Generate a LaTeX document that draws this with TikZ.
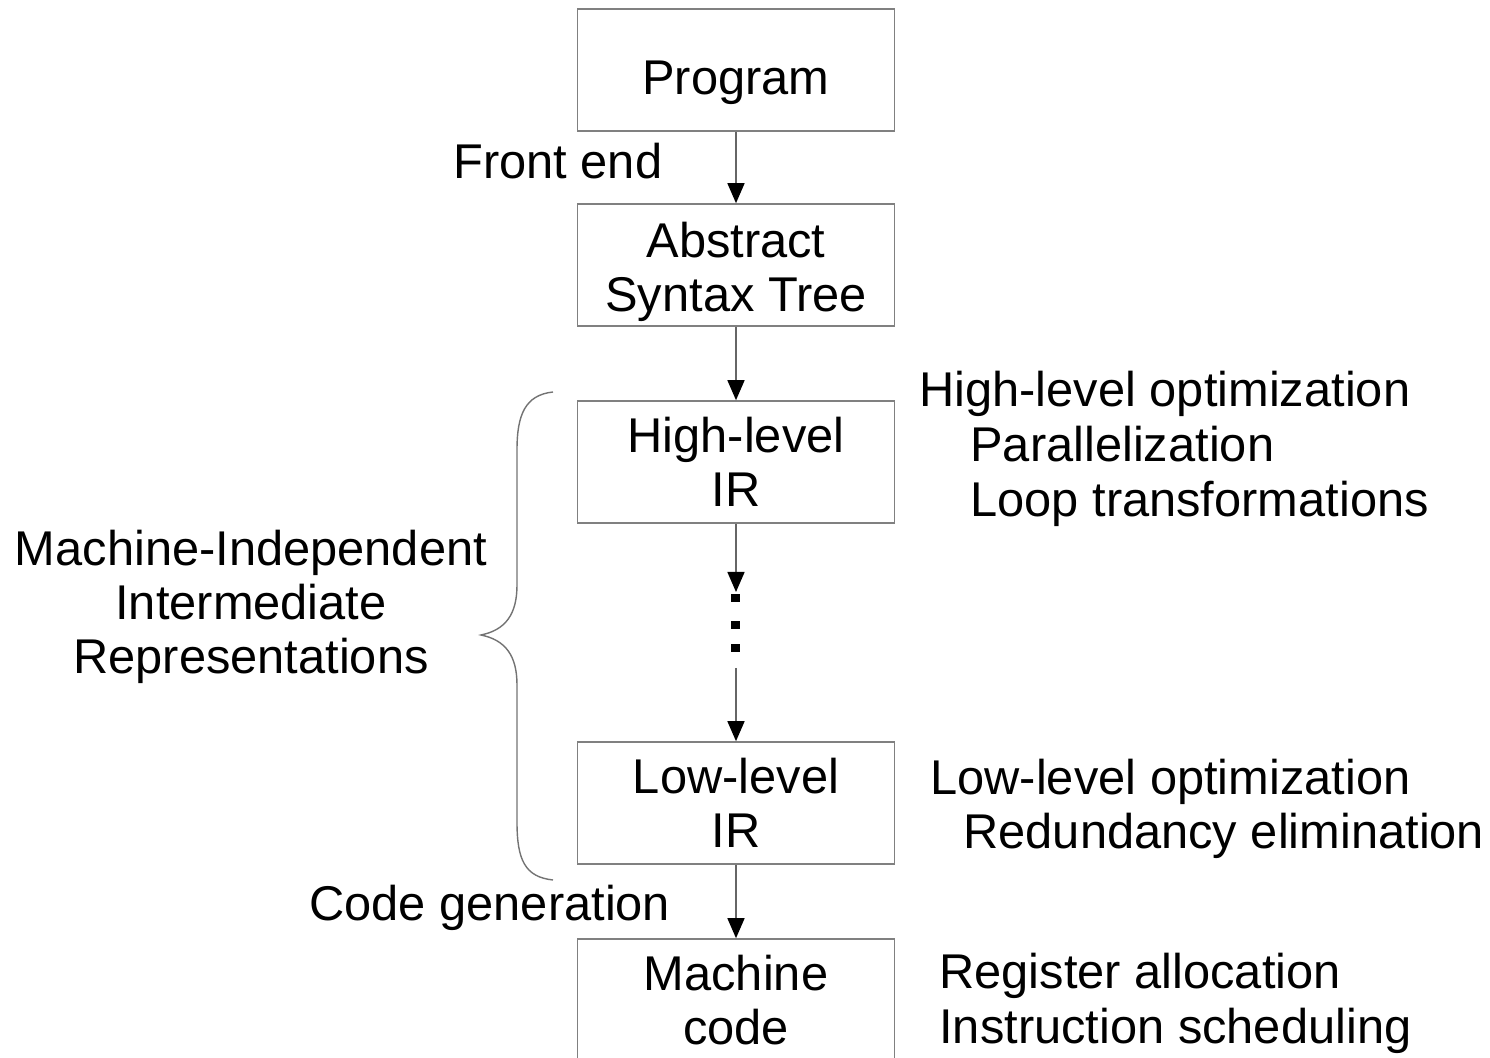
\documentclass[tikz,border=0pt]{standalone}
\usepackage{fontspec}
\setmainfont{Liberation Sans}
\usetikzlibrary{arrows.meta}
\begin{document}
\begin{tikzpicture}[x=0.5pt,y=-0.5pt,
  box/.style={draw=black!50,line width=0.8pt,minimum width=158.5pt,minimum height=61pt,inner sep=0pt},
  boxtext/.style={inner sep=0pt,align=center,font=\fontsize{24.4}{27}\selectfont},
  lbl/.style={inner sep=0pt,anchor=west,text height=0.72em,text depth=0pt,font=\fontsize{24.4}{27}\selectfont},
  conn/.style={draw=black!60,line width=0.75pt,-{Triangle[length=10pt,width=8.5pt,color=black]}},
  bracestyle/.style={draw=black!55,line width=0.7pt}]
\useasboundingbox (0,0) rectangle (1490,1058);
\node[box] (prog) at (736,70) {};
\node[box] (ast)  at (736,265) {};
\node[box] (hir)  at (736,462) {};
\node[box] (lir)  at (736,803) {};
\node[box] (mc)   at (736,1000) {};
\node[boxtext] (progt) at (736,83) {Program};
\node[boxtext] (astt)  at (736,272) {Abstract\\Syntax Tree};
\node[boxtext] (hirt)  at (736,462) {High-level\\IR};
\node[boxtext] (lirt)  at (736,803) {Low-level\\IR};
\node[boxtext] (mct)   at (736,1000) {Machine\\code};
\coordinate (dtop) at (736,592);
\coordinate (dbot) at (736,668);
\draw[conn] (prog.south) -- (ast.north);
\draw[conn] (ast.south) -- (hir.north);
\draw[conn] (hir.south) -- (dtop);
\draw[conn] (dbot) -- (lir.north);
\draw[conn] (lir.south) -- (mc.north);
\foreach \yy in {598,625,648} \fill (731,\yy-4) rectangle (740,\yy+4);
\node[lbl] (fe) at (453,171) {Front end};
\node[lbl] (cg) at (309,913) {Code generation};
\node[lbl] (hlo) at (919,399) {High-level optimization};
\node[lbl] (par) at (970,454) {Parallelization};
\node[lbl] (loop) at (970,509) {Loop transformations};
\node[lbl] (llo) at (930,787) {Low-level optimization};
\node[lbl] (red) at (963,841) {Redundancy elimination};
\node[lbl] (reg) at (939,981) {Register allocation};
\node[lbl] (ins) at (939,1036) {Instruction scheduling};
\node[boxtext] (mi) at (251,607) {Machine-Independent\\Intermediate\\Representations};
\draw[bracestyle] (553,392) .. controls (525,395) and (517,415) .. (517,450)
  -- (517,585) .. controls (517,615) and (505,630) .. (481,635)
  .. controls (505,640) and (517,655) .. (517,685)
  -- (517,822) .. controls (517,860) and (525,877) .. (553,880);
\end{tikzpicture}
\end{document}
